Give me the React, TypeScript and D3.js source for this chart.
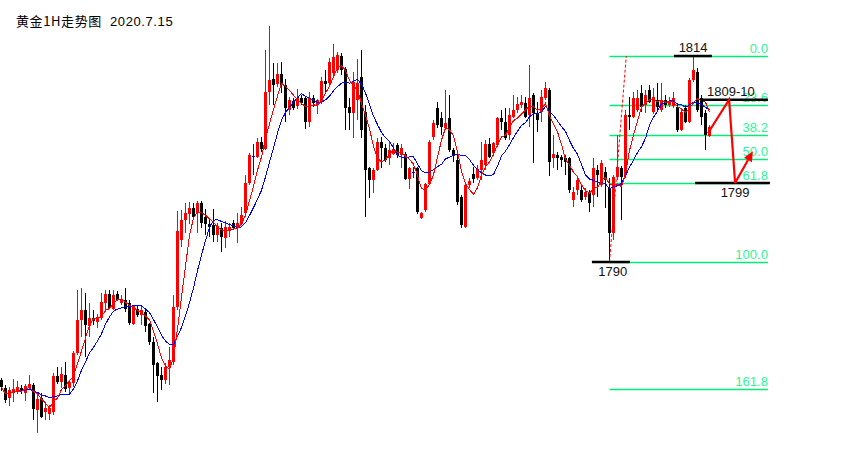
import React from "react";
import * as d3 from "d3";

const W = 866;
const H = 470;

const titleText = "黄金1H走势图";
const dateText = "2020.7.15";

// Hourly gold candles (price, USD)
const opens = [
  1776.3, 1775.3, 1774.1, 1774.7, 1774.9, 1775.3, 1774.7, 1775.3, 1775.7, 1772.8,
  1774.1, 1772.5, 1772.3, 1772.5, 1776.7, 1776.0, 1776.8, 1775.3, 1775.9, 1779.4,
  1783.2, 1784.4, 1782.5, 1783.5, 1783.0, 1783.5, 1785.2, 1786.3, 1784.5, 1786.3,
  1785.2, 1785.6, 1785.2, 1782.8, 1784.5, 1783.8, 1784.2, 1782.8, 1780.7, 1778.2,
  1776.8, 1776.3, 1777.8, 1778.4, 1784.8, 1792.6, 1794.9, 1795.6, 1796.3, 1795.7,
  1796.9, 1795.2, 1794.4, 1794.3, 1793.1, 1794.0, 1792.8, 1793.7, 1794.6, 1794.0,
  1794.4, 1795.7, 1799.2, 1802.3, 1802.2, 1804.0, 1803.2, 1809.8, 1811.3, 1810.7,
  1811.9, 1810.6, 1807.7, 1808.8, 1808.2, 1809.1, 1809.1, 1806.3, 1809.1, 1808.3,
  1808.6, 1811.1, 1810.9, 1812.0, 1812.4, 1814.0, 1812.5, 1808.1, 1807.4, 1808.9,
  1811.6, 1807.5, 1801.0, 1799.6, 1800.7, 1804.0, 1803.3, 1802.1, 1802.6, 1803.6,
  1802.5, 1802.6, 1799.7, 1800.5, 1801.0, 1795.1, 1796.1, 1799.1, 1804.6, 1807.9,
  1806.8, 1805.6, 1806.8, 1803.0, 1801.9, 1797.6, 1794.1, 1799.0, 1800.2, 1799.8,
  1800.7, 1801.3, 1803.7, 1802.7, 1803.6, 1806.8, 1806.3, 1804.8, 1806.9, 1807.7,
  1808.3, 1808.5, 1807.1, 1809.5, 1807.4, 1807.5, 1809.1, 1810.0, 1802.1, 1802.5,
  1802.2, 1802.1, 1802.1, 1797.2, 1798.4, 1798.4, 1797.6, 1798.0, 1797.8, 1800.7,
  1799.0, 1800.5, 1798.6, 1793.4, 1799.9, 1801.0, 1800.1, 1807.1, 1806.9, 1807.7,
  1809.7, 1808.3, 1810.0, 1807.5, 1808.9, 1807.7, 1808.9, 1808.3, 1808.2, 1808.1,
  1805.4, 1807.9, 1806.3, 1811.2, 1812.1, 1809.1, 1807.4, 1804.7,
];
const highs = [
  1776.5, 1775.7, 1775.4, 1776.4, 1776.1, 1775.7, 1775.8, 1776.8, 1775.9, 1774.5,
  1774.7, 1773.7, 1773.3, 1777.1, 1777.8, 1777.8, 1778.4, 1776.3, 1779.6, 1786.7,
  1787.0, 1786.4, 1785.2, 1784.4, 1784.0, 1786.4, 1786.7, 1786.7, 1786.7, 1786.6,
  1786.1, 1787.0, 1785.6, 1785.0, 1784.9, 1784.9, 1784.6, 1782.9, 1781.3, 1778.4,
  1777.8, 1778.2, 1780.1, 1786.1, 1796.0, 1796.1, 1796.9, 1797.0, 1796.9, 1797.1,
  1797.1, 1796.2, 1794.9, 1796.2, 1794.5, 1794.6, 1794.8, 1794.5, 1794.9, 1795.7,
  1796.4, 1800.1, 1802.7, 1803.7, 1804.4, 1804.6, 1814.7, 1817.5, 1813.2, 1813.2,
  1813.3, 1811.3, 1809.2, 1809.1, 1810.2, 1809.5, 1809.3, 1809.8, 1809.5, 1809.0,
  1811.6, 1812.4, 1813.8, 1815.4, 1814.5, 1814.3, 1812.7, 1809.1, 1812.1, 1813.6,
  1814.7, 1808.3, 1801.1, 1801.0, 1804.4, 1804.6, 1803.7, 1804.0, 1803.9, 1803.9,
  1803.7, 1802.8, 1801.1, 1801.1, 1801.1, 1795.8, 1799.2, 1804.2, 1806.5, 1808.6,
  1807.5, 1810.0, 1809.5, 1803.3, 1802.5, 1797.8, 1799.2, 1799.8, 1801.1, 1801.3,
  1804.0, 1804.2, 1804.4, 1804.0, 1806.9, 1807.7, 1807.9, 1807.9, 1809.5, 1809.2,
  1809.5, 1809.2, 1813.0, 1809.7, 1808.6, 1810.0, 1811.0, 1810.3, 1804.8, 1802.8,
  1802.5, 1802.5, 1802.2, 1798.7, 1799.8, 1799.0, 1798.6, 1798.4, 1802.1, 1801.3,
  1801.9, 1801.1, 1799.8, 1800.1, 1804.8, 1801.2, 1807.7, 1809.2, 1809.8, 1810.0,
  1810.6, 1810.0, 1810.6, 1810.3, 1810.9, 1810.9, 1809.5, 1809.2, 1809.8, 1808.3,
  1807.7, 1808.3, 1811.4, 1814.0, 1812.6, 1809.5, 1807.7, 1806.0,
];
const lows = [
  1775.0, 1773.6, 1773.2, 1773.7, 1774.6, 1774.6, 1773.8, 1775.1, 1771.6, 1770.1,
  1771.8, 1771.6, 1771.6, 1772.2, 1775.8, 1775.3, 1774.9, 1774.6, 1775.4, 1779.2,
  1781.3, 1778.9, 1781.3, 1782.7, 1782.3, 1783.2, 1784.2, 1784.5, 1784.4, 1785.5,
  1785.0, 1784.2, 1782.7, 1782.7, 1783.6, 1782.7, 1781.8, 1780.3, 1774.7, 1773.7,
  1775.1, 1775.8, 1775.7, 1778.0, 1784.4, 1791.7, 1793.4, 1794.4, 1794.9, 1793.4,
  1794.0, 1793.1, 1792.9, 1792.3, 1792.3, 1791.2, 1791.6, 1792.9, 1793.7, 1792.2,
  1794.3, 1795.2, 1799.0, 1800.1, 1802.1, 1802.8, 1803.0, 1808.3, 1808.3, 1810.4,
  1809.7, 1806.3, 1807.1, 1807.7, 1807.8, 1808.3, 1805.5, 1805.7, 1808.1, 1807.2,
  1808.4, 1809.7, 1810.6, 1811.6, 1812.0, 1811.8, 1805.4, 1805.4, 1804.4, 1806.5,
  1804.4, 1795.2, 1797.5, 1798.0, 1800.6, 1801.0, 1801.6, 1801.3, 1802.5, 1802.1,
  1801.0, 1799.6, 1798.5, 1799.8, 1795.6, 1795.0, 1795.8, 1799.0, 1804.2, 1805.6,
  1804.8, 1805.4, 1802.8, 1801.6, 1796.6, 1794.0, 1794.0, 1798.6, 1799.2, 1799.6,
  1799.6, 1800.7, 1802.1, 1802.5, 1803.4, 1805.4, 1804.2, 1804.2, 1806.8, 1807.4,
  1807.9, 1806.8, 1805.7, 1801.5, 1805.1, 1806.3, 1808.9, 1800.0, 1801.0, 1800.7,
  1801.1, 1800.1, 1798.0, 1796.4, 1797.8, 1797.0, 1797.2, 1795.8, 1796.4, 1797.6,
  1798.7, 1796.3, 1790.0, 1792.6, 1799.6, 1794.9, 1799.8, 1805.4, 1806.8, 1807.5,
  1807.5, 1807.4, 1808.5, 1807.2, 1807.7, 1807.5, 1807.9, 1808.1, 1807.9, 1805.1,
  1805.3, 1806.2, 1806.2, 1811.0, 1807.5, 1806.0, 1803.0, 1804.6,
];
const closes = [
  1775.4, 1773.9, 1775.1, 1775.2, 1775.4, 1775.0, 1775.5, 1775.8, 1772.9, 1774.0,
  1772.0, 1773.0, 1773.0, 1776.7, 1776.0, 1777.0, 1775.2, 1776.0, 1779.4, 1783.2,
  1784.4, 1782.7, 1783.5, 1783.1, 1783.6, 1785.3, 1786.3, 1784.6, 1786.1, 1785.6,
  1785.7, 1784.5, 1782.9, 1784.9, 1783.8, 1784.4, 1782.5, 1780.7, 1778.0, 1776.7,
  1776.3, 1777.8, 1778.6, 1784.8, 1793.6, 1794.9, 1795.7, 1796.3, 1795.2, 1796.9,
  1794.5, 1794.4, 1794.1, 1793.1, 1794.2, 1792.9, 1794.1, 1794.1, 1794.0, 1794.6,
  1795.5, 1799.2, 1802.5, 1802.3, 1804.0, 1803.2, 1809.8, 1811.2, 1810.6, 1811.9,
  1810.6, 1807.9, 1808.9, 1807.9, 1809.1, 1808.5, 1806.3, 1809.1, 1808.5, 1808.9,
  1811.1, 1810.7, 1813.3, 1813.9, 1814.1, 1812.4, 1807.9, 1807.4, 1811.0, 1810.9,
  1805.4, 1800.7, 1799.6, 1800.7, 1804.0, 1803.3, 1801.9, 1803.0, 1803.2, 1802.5,
  1803.3, 1799.7, 1801.0, 1800.5, 1795.8, 1795.7, 1799.1, 1804.0, 1806.2, 1806.0,
  1805.7, 1806.2, 1803.0, 1802.5, 1797.0, 1794.3, 1799.0, 1799.4, 1799.7, 1800.8,
  1801.9, 1803.7, 1802.2, 1803.9, 1806.8, 1806.3, 1804.4, 1807.1, 1807.7, 1808.4,
  1808.6, 1806.9, 1809.1, 1807.4, 1806.5, 1809.2, 1810.3, 1801.6, 1802.6, 1802.1,
  1801.9, 1801.6, 1798.4, 1798.2, 1799.6, 1797.2, 1798.2, 1796.9, 1801.0, 1800.1,
  1801.5, 1799.6, 1793.4, 1799.9, 1801.1, 1799.9, 1807.1, 1806.9, 1809.1, 1809.1,
  1808.1, 1809.5, 1808.6, 1809.2, 1808.1, 1808.9, 1808.3, 1808.8, 1809.1, 1805.4,
  1807.5, 1806.3, 1811.2, 1812.4, 1807.7, 1806.9, 1804.8, 1805.7,
];

const maFastPeriod = 5;
const maSlowPeriod = 10;

// Fibonacci retracement (1790 low -> 1814 high)
const fibHigh = 1814;
const fibLow = 1790;
const fibLevels = [0, 23.6, 38.2, 50, 61.8, 100, 161.8];
const fibLabels = ["0.0", "23.6", "38.2", "50.0", "61.8", "100.0", "161.8"];
const fibStartIdx = 152;
const fibTopIdx = 156.2;
const fibEndIdx = 191.6;

// key price marks
const keyLabels = ["1814", "1809-10", "1799", "1790"];
const keyPrices = [1814, 1808.9, 1799.2, 1790];
const keyFrom = [168.1, 174.6, 173.4, 147.6];
const keyTo = [177.6, 191.6, 192.1, 157.1];
const keyLabelIdx = [172.9, 176.4, 183.4, 152.8];

// projected path
const projIdx = [176.6, 181.9, 183.4, 187.6];
const projPrice = [1805.0, 1808.9, 1799.2, 1802.7];

function movingAvg(values: number[], n: number) {
  return values.map((_, i) => {
    const s = Math.max(0, i - n + 1);
    return d3.mean(values.slice(s, i + 1)) as number;
  });
}

export default function App() {
  const x = d3.scaleLinear().domain([0, 1]).range([1.5, 5.5]);
  const y = d3.scaleLinear().domain([fibLow, fibHigh]).range([262, 56]);

  const idx = d3.range(opens.length);
  const maF = movingAvg(closes, maFastPeriod);
  const maS = movingAvg(closes, maSlowPeriod);
  const line = d3
    .line<number>()
    .x((_, i) => x(i))
    .y((d) => y(d));

  const fibGreen = "#00ee78";
  const fibText = "#2ef596";
  const labelFont = "'Liberation Sans', Arial, sans-serif";

  // arrowhead
  const n = projIdx.length;
  const ax = x(projIdx[n - 1]);
  const ay = y(projPrice[n - 1]);
  const bx = x(projIdx[n - 2]);
  const by = y(projPrice[n - 2]);
  const ang = Math.atan2(ay - by, ax - bx);
  const hl = 10;
  const hw = 4.5;
  const tipX = ax + Math.cos(ang) * 2;
  const tipY = ay + Math.sin(ang) * 2;
  const baseX = tipX - Math.cos(ang) * hl;
  const baseY = tipY - Math.sin(ang) * hl;
  const head = [
    [tipX, tipY],
    [baseX - Math.sin(ang) * hw, baseY + Math.cos(ang) * hw],
    [baseX + Math.sin(ang) * hw, baseY - Math.cos(ang) * hw],
  ];
  const projLine = d3
    .line<number>()
    .x((d) => x(d))
    .y((_, i) => y(projPrice[i]));

  return (
    <svg
      width={W}
      height={H}
      style={{ position: "fixed", left: 0, top: 0, background: "#fff" }}
    >
      <rect x={0} y={0} width={W} height={H} fill="#fff" />
      <text
        x={16}
        y={26}
        fontSize={13}
        fontFamily="'Noto Sans CJK SC', sans-serif"
        letterSpacing={0.6}
        fill="#000"
      >
        {titleText}
      </text>
      <text x={110} y={26} fontSize={13} fontFamily={labelFont} letterSpacing={0.6} fill="#000">
        {dateText}
      </text>

      {/* fib lines */}
      {fibLevels.map((lv, i) => {
        const p = fibHigh - (lv / 100) * (fibHigh - fibLow);
        return (
          <line
            key={"f" + i}
            x1={x(fibStartIdx)}
            x2={x(fibEndIdx)}
            y1={Math.round(y(p)) + 0.5}
            y2={Math.round(y(p)) + 0.5}
            stroke={fibGreen}
            strokeWidth={1.3}
          />
        );
      })}

      {/* candles */}
      {idx.map((i) => {
        const o = opens[i];
        const c = closes[i];
        const col = c > o ? "#ff0000" : c < o ? "#000000" : "#0000ff";
        const top = y(Math.max(o, c));
        const h = Math.max(1, Math.abs(y(o) - y(c)));
        return (
          <g key={"c" + i} shapeRendering="crispEdges">
            <line
              x1={x(i)}
              x2={x(i)}
              y1={y(highs[i])}
              y2={y(lows[i])}
              stroke={col}
              strokeWidth={1}
            />
            <rect x={x(i) - 1.5} y={top} width={3} height={h} fill={col} />
          </g>
        );
      })}

      {/* moving averages */}
      <path d={line(maS) || ""} fill="none" stroke="#0000ff" strokeWidth={1} shapeRendering="crispEdges" />
      <path d={line(maF) || ""} fill="none" stroke="#ff0000" strokeWidth={1} shapeRendering="crispEdges" />

      {/* fib anchor dashed */}
      <line
        x1={x(fibStartIdx)}
        y1={y(fibLow)}
        x2={x(fibTopIdx)}
        y2={y(fibHigh)}
        stroke="#ff0000"
        strokeWidth={1}
        strokeDasharray="3,2"
      />

      {/* fib labels */}
      {fibLevels.map((lv, i) => {
        const p = fibHigh - (lv / 100) * (fibHigh - fibLow);
        return (
          <text
            key={"fl" + i}
            x={x(fibEndIdx)}
            y={y(p) - 3}
            textAnchor="end"
            fontSize={13}
            fontFamily={labelFont}
            fill={fibText}
          >
            {fibLabels[i]}
          </text>
        );
      })}

      {/* key levels */}
      {keyPrices.map((p, i) => (
        <line
          key={"k" + i}
          x1={x(keyFrom[i])}
          x2={x(keyTo[i])}
          y1={y(p)}
          y2={y(p)}
          stroke="#000"
          strokeWidth={2.5}
        />
      ))}
      {keyLabels.map((t, i) => {
        const p = keyPrices[i];
        const below = p < 1800;
        const anchor = i === 1 ? "start" : "middle";
        return (
          <text
            key={"kl" + i}
            x={x(keyLabelIdx[i])}
            y={below ? y(p) + 14 : y(p) - 4}
            textAnchor={anchor}
            fontSize={13}
            fontFamily={labelFont}
            fill="#111"
          >
            {t}
          </text>
        );
      })}

      {/* projection */}
      <path
        d={projLine(projIdx.slice(0, n - 1)) || ""}
        fill="none"
        stroke="#ff0000"
        strokeWidth={2.2}
        strokeLinejoin="miter"
      />
      <line
        x1={bx}
        y1={by}
        x2={baseX}
        y2={baseY}
        stroke="#ff0000"
        strokeWidth={2.2}
      />
      <polygon points={head.map((p) => p.join(",")).join(" ")} fill="#ff0000" />
    </svg>
  );
}
